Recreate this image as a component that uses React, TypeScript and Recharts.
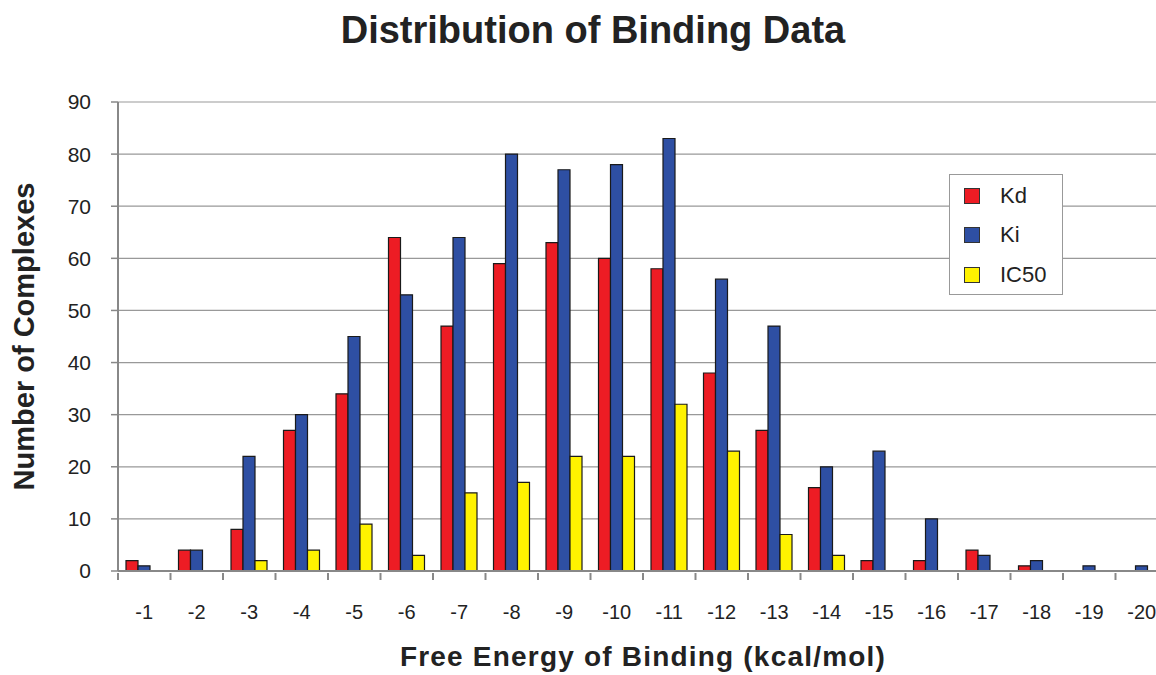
import React from 'react';
import { BarChart, Bar, XAxis, YAxis, CartesianGrid } from 'recharts';

const categories = ['-1', '-2', '-3', '-4', '-5', '-6', '-7', '-8', '-9', '-10', '-11', '-12', '-13', '-14', '-15', '-16', '-17', '-18', '-19', '-20'];
const kdValues = [2, 4, 8, 27, 34, 64, 47, 59, 63, 60, 58, 38, 27, 16, 2, 2, 4, 1, 0, 0];
const kiValues = [1, 4, 22, 30, 45, 53, 64, 80, 77, 78, 83, 56, 47, 20, 23, 10, 3, 2, 1, 1];
const ic50Values = [0, 0, 2, 4, 9, 3, 15, 17, 22, 22, 32, 23, 7, 3, 0, 0, 0, 0, 0, 0];
const yTicks = [0, 10, 20, 30, 40, 50, 60, 70, 80, 90];

const seriesNames = ['Kd', 'Ki', 'IC50'];
const seriesColors = ['#ED1C24', '#2E4FA3', '#FFF200'];

const data = categories.map((c, i) => ({
  name: c,
  Kd: kdValues[i],
  Ki: kiValues[i],
  IC50: ic50Values[i],
}));

const CHART_W = 1175;
const CHART_H = 675;
const M_LEFT = 58;
const Y_W = 60;
const M_RIGHT = 7;
const PLOT_W = CHART_W - M_LEFT - Y_W - M_RIGHT;
const BAND = PLOT_W / categories.length;
const FONT = '"Liberation Sans", Arial, sans-serif';

const XTick = (props: any) => {
  const { x, y, payload } = props;
  return (
    <g>
      <line x1={x - BAND / 2} x2={x - BAND / 2} y1={y - 8} y2={y - 1} stroke="#888" strokeWidth={2} />
      <text x={x} y={y + 38} textAnchor="middle" fontSize={20} fill="#222" fontFamily={FONT}>
        {payload.value}
      </text>
    </g>
  );
};

const LegendBox = () => (
  <div
    style={{
      position: 'absolute',
      left: 949,
      top: 174,
      width: 114,
      height: 121,
      border: '1px solid #999',
      background: '#fff',
      boxSizing: 'border-box',
      paddingTop: 1,
      fontFamily: FONT,
    }}
  >
    {seriesNames.map((n, i) => (
      <div key={n} style={{ display: 'flex', alignItems: 'center', height: 39.5 }}>
        <div
          style={{
            width: 16,
            height: 16,
            background: seriesColors[i],
            border: '1px solid #333',
            marginLeft: 14,
            marginRight: 20,
            boxSizing: 'border-box',
          }}
        />
        <span style={{ fontSize: 22, color: '#222' }}>{n}</span>
      </div>
    ))}
  </div>
);

export default function App() {
  return (
    <div style={{ position: 'absolute', left: 0, top: 0, width: 1156, height: 675, overflow: 'hidden', background: '#fff' }}>
      <div
        style={{
          position: 'absolute',
          left: 0,
          width: 1186,
          top: 8,
          textAlign: 'center',
          fontFamily: FONT,
          fontWeight: 'bold',
          fontSize: 38,
          lineHeight: '44px',
          color: '#222',
        }}
      >
        Distribution of Binding Data
      </div>
      <BarChart
        width={CHART_W}
        height={CHART_H}
        data={data}
        margin={{ top: 102, right: M_RIGHT, left: M_LEFT, bottom: 64 }}
        barCategoryGap={8}
        barGap={0}
      >
        <CartesianGrid vertical={false} stroke="#999" strokeWidth={1.2} />
        <XAxis
          dataKey="name"
          height={40}
          tickLine={false}
          tickSize={8}
          tick={<XTick />}
          axisLine={{ stroke: '#888', strokeWidth: 2 }}
          interval={0}
          label={{
            value: 'Free Energy of Binding (kcal/mol)',
            position: 'insideBottom',
            offset: -55,
            style: { fontFamily: FONT, fontWeight: 'bold', fontSize: 28, letterSpacing: 1.2, fill: '#222' },
          }}
        />
        <YAxis
          width={Y_W}
          domain={[0, 90]}
          ticks={yTicks}
          interval={0}
          tickSize={7}
          tickMargin={20}
          tickLine={{ stroke: '#888', strokeWidth: 1.5 }}
          axisLine={{ stroke: '#888', strokeWidth: 2 }}
          tick={{ fontSize: 21, fill: '#222', fontFamily: FONT }}
          label={{
            value: 'Number of Complexes',
            angle: -90,
            position: 'insideLeft',
            offset: -34,
            style: { textAnchor: 'middle', fontFamily: FONT, fontWeight: 'bold', fontSize: 29, fill: '#222' },
          }}
        />
        {seriesNames.map((n, i) => (
          <Bar key={n} dataKey={n} fill={seriesColors[i]} stroke="#1a1a1a" strokeWidth={1.2} isAnimationActive={false} />
        ))}
      </BarChart>
      <LegendBox />
    </div>
  );
}
